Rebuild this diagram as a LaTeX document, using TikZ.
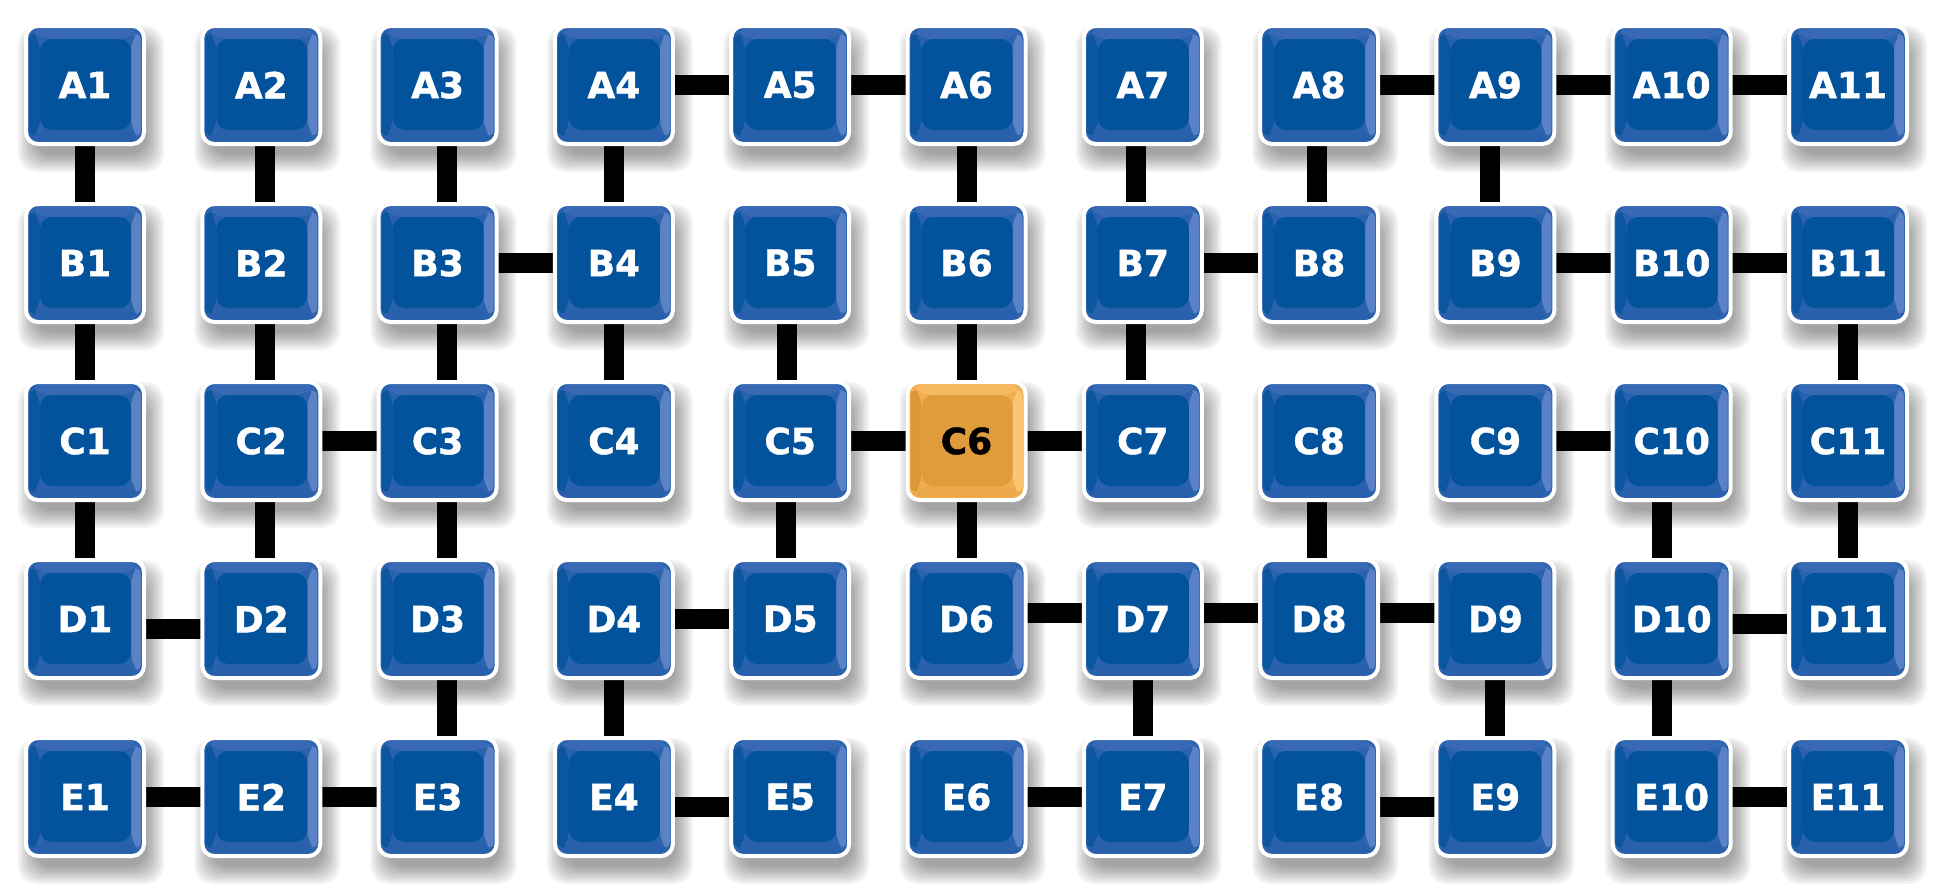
\documentclass[tikz,border=0pt]{standalone}
\usepackage{fontspec}
\setmainfont{DejaVu Sans}[BoldFeatures={FakeBold=1.2}]
\usetikzlibrary{calc}
\pgfdeclarelayer{bg}
\pgfdeclarelayer{shadow}
\pgfdeclarelayer{links}
\pgfsetlayers{bg,shadow,links,main}
\definecolor{bmain}{HTML}{02529C}
\definecolor{bedge}{HTML}{2A62AE}
\definecolor{btop}{HTML}{3869B4}
\definecolor{bright}{HTML}{5A82C4}
\definecolor{bbottom}{HTML}{2860AB}
\definecolor{bleft}{HTML}{0C56A1}
\definecolor{btxt}{HTML}{FFFFFF}
\definecolor{omain}{HTML}{E09C3B}
\definecolor{oedge}{HTML}{F2AE4E}
\definecolor{otop}{HTML}{F7BA60}
\definecolor{oright}{HTML}{FAC574}
\definecolor{obottom}{HTML}{EAA84A}
\definecolor{oleft}{HTML}{DC9838}
\definecolor{otxt}{HTML}{000000}
\newcommand\cellbevel[6]{%
  \path (path picture bounding box.north west) coordinate (q1)
        (path picture bounding box.south east) coordinate (q2);
  \fill[#1] (q1) rectangle (q2);
  \fill[#2] ($(q1)+(3,3)$) -- ($(q1 -| q2)+(-3,3)$) -- ($(q1 -| q2)+(-13,13)$) -- ($(q1)+(14,13)$) -- cycle;
  \fill[#3] ($(q1 -| q2)+(-3,3)$) -- ($(q2)+(-3,-3)$) -- ($(q2)+(-13,-14)$) -- ($(q1 -| q2)+(-13,13)$) -- cycle;
  \fill[#4] ($(q2)+(-3,-3)$) -- ($(q2 -| q1)+(3,-3)$) -- ($(q2 -| q1)+(14,-14)$) -- ($(q2)+(-13,-14)$) -- cycle;
  \fill[#5] ($(q2 -| q1)+(3,-3)$) -- ($(q1)+(3,3)$) -- ($(q1)+(14,13)$) -- ($(q2 -| q1)+(14,-14)$) -- cycle;
  \fill[#6] ($(q1)+(14,13)$) rectangle ($(q2)+(-13,-14)$);
}
\tikzset{
  cell/.style={rectangle, draw=white, line width=4pt, rounded corners=12pt,
    minimum width=118pt, minimum height=118pt, inner sep=0pt,
    font=\fontsize{36}{36}\selectfont\bfseries},
  link/.style={draw=black, line width=20pt}
}
\begin{document}
\begin{tikzpicture}[x=1pt,y=-1pt]
\begin{pgfonlayer}{bg}
\fill[white] (0,0) rectangle (1945,894);
\end{pgfonlayer}
\useasboundingbox (0,0) rectangle (1945,894);
% shadows
\begin{pgfonlayer}{shadow}
\foreach \rl/\yy in {A/85,B/263,C/441,D/619,E/797}{
  \foreach \cn in {1,...,11}{
    \pgfmathsetmacro\xx{85+176.3*(\cn-1)}
    \foreach \k in {0,...,7}{
      \fill[black, opacity=0.05, rounded corners=18pt]
        (\xx+6-56-\k*2.4, \yy+14-56-\k*2.4) rectangle (\xx+6+56+\k*2.4, \yy+14+56+\k*2.4);
    }
  }
}
\end{pgfonlayer}
% nodes
\foreach \rl/\yy in {A/85,B/263,C/441,D/619,E/797}{
  \foreach \cn in {1,...,11}{
    \pgfmathsetmacro\xx{85+176.3*(\cn-1)}
    \def\pal{b}
    \if\rl C\ifnum\cn=6 \def\pal{o}\fi\fi
    \node[cell, fill=\pal main, text=\pal txt,
      path picture={\cellbevel{\pal edge}{\pal top}{\pal right}{\pal bottom}{\pal left}{\pal main}}]
      (\rl\cn) at (\xx,\yy) {\rl\cn};
  }
}
% connectors
\begin{pgfonlayer}{links}
\foreach \a/\b/\s in {A4/A5/0, A5/A6/0, A8/A9/0, A9/A10/0, A10/A11/0,
  B3/B4/0, B7/B8/0, B9/B10/0, B10/B11/0,
  C2/C3/0, C5/C6/0, C6/C7/0, C9/C10/0,
  D1/D2/-10, D4/D5/0, D6/D7/6, D7/D8/6, D8/D9/6, D10/D11/-5,
  E1/E2/0, E2/E3/0, E4/E5/-10, E6/E7/0, E8/E9/-10, E10/E11/0}{
  \draw[link] ([yshift=\s pt]\a.center) -- ([yshift=\s pt]\b.center);
}
\foreach \a/\b/\s in {A1/B1/0, A2/B2/4, A3/B3/9, A4/B4/0, A6/B6/0, A7/B7/-7, A8/B8/-2, A9/B9/-5,
  B1/C1/0, B2/C2/4, B3/C3/9, B4/C4/0, B5/C5/-3, B6/C6/0, B7/C7/-7, B11/C11/0,
  C1/D1/0, C2/D2/4, C3/D3/9, C5/D5/-4, C6/D6/0, C8/D8/-2, C10/D10/-10, C11/D11/0,
  D3/E3/9, D4/E4/0, D7/E7/0, D9/E9/0, D10/E10/-10}{
  \draw[link] ([xshift=\s pt]\a.center) -- ([xshift=\s pt]\b.center);
}
\end{pgfonlayer}
\end{tikzpicture}
\end{document}
